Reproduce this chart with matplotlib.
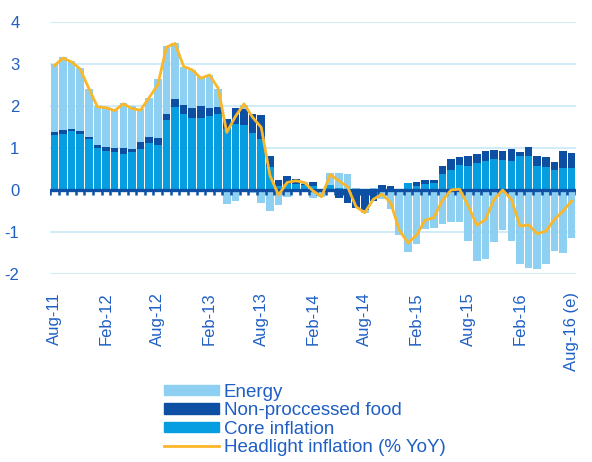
import numpy as np
import matplotlib
matplotlib.use("Agg")
import matplotlib.pyplot as plt
from matplotlib.patches import Patch
from matplotlib.lines import Line2D

plt.rcParams['font.family'] = ['Liberation Sans', 'DejaVu Sans']
plt.rcParams['axes.unicode_minus'] = False

# monthly, Aug-11 .. Aug-16 (e)
core = [1.30, 1.34, 1.40, 1.34, 1.21, 1.00, 0.92, 0.90, 0.86, 0.90, 0.98, 1.12, 1.06,
        1.66, 1.98, 1.81, 1.72, 1.72, 1.77, 1.81, 1.45, 1.58, 1.55, 1.35, 1.22,
        0.54, 0.10, 0.14, 0.15, 0.12, 0.10, 0.00, 0.12, 0.04, 0.02, 0.00, 0.00,
        0.00, 0.02, 0.00, 0.02, 0.17, 0.10, 0.14, 0.16, 0.38, 0.48, 0.60, 0.57,
        0.64, 0.70, 0.74, 0.72, 0.70, 0.80, 0.82, 0.57, 0.54, 0.48, 0.52, 0.52]
food = [0.07, 0.08, 0.06, 0.06, 0.05, 0.07, 0.10, 0.10, 0.14, 0.08, 0.16, 0.14, 0.19,
        0.16, 0.18, 0.21, 0.24, 0.28, 0.19, 0.16, 0.25, 0.38, 0.37, 0.47, 0.56,
        0.26, 0.14, 0.20, 0.10, 0.02, 0.08, -0.02, -0.03, -0.18, -0.30, -0.44, -0.48,
        -0.26, 0.10, 0.09, 0.00, 0.00, 0.09, 0.10, 0.08, 0.20, 0.26, 0.18, 0.23,
        0.22, 0.24, 0.22, 0.22, 0.28, 0.10, 0.20, 0.25, 0.24, 0.18, 0.41, 0.36]
energy = [1.63, 1.74, 1.60, 1.50, 1.14, 0.93, 0.95, 0.94, 1.06, 1.02, 0.80, 0.94, 1.39,
          1.62, 1.34, 0.92, 0.90, 0.70, 0.78, 0.44, -0.34, -0.26, 0.10, -0.08, -0.30,
          -0.50, -0.36, -0.16, -0.03, 0.04, -0.20, -0.14, 0.28, 0.36, 0.36, 0.04, -0.06,
          0.04, -0.22, -0.45, -1.06, -1.48, -1.28, -0.94, -0.91, -0.82, -0.75, -0.75, -1.22,
          -1.70, -1.64, -1.24, -0.95, -1.22, -1.75, -1.86, -1.88, -1.75, -1.46, -1.51, -1.15]
headline = [2.96, 3.14, 3.05, 2.88, 2.42, 1.98, 1.96, 1.89, 2.05, 1.94, 1.90, 2.20, 2.50,
            3.40, 3.49, 2.94, 2.86, 2.66, 2.74, 2.42, 1.37, 1.75, 2.05, 1.73, 1.49,
            0.35, -0.12, 0.18, 0.22, 0.18, -0.02, -0.16, 0.37, 0.22, 0.08, -0.40, -0.54,
            -0.22, -0.10, -0.30, -0.95, -1.26, -1.08, -0.72, -0.66, -0.25, 0.00, 0.02, -0.38,
            -0.84, -0.70, -0.22, 0.00, -0.22, -0.86, -0.83, -1.04, -0.98, -0.70, -0.50, -0.26]

tick_labels = ["Aug-11", "Feb-12", "Aug-12", "Feb-13", "Aug-13", "Feb-14",
               "Aug-14", "Feb-15", "Aug-15", "Feb-16", "Aug-16 (e)"]

C_ENERGY = "#8dd0f1"
C_FOOD = "#0c4fa3"
C_CORE = "#079ee1"
C_LINE = "#fbb72a"
C_TEXT = "#1f5fc4"
C_GRID = "#cde9f8"

n = len(headline)
x = np.arange(n)

fig = plt.figure(figsize=(5.92, 4.62), dpi=100)
ax = fig.add_axes([50 / 592, 1 - 274 / 462, 526 / 592, 252 / 462])

# stack positives up and negatives down, series order core -> food -> energy
pos = np.zeros(n)
neg = np.zeros(n)
for vals, col in [(core, C_CORE), (food, C_FOOD), (energy, C_ENERGY)]:
    v = np.array(vals)
    bottom = np.where(v >= 0, pos, neg)
    ax.bar(x, v, width=0.88, bottom=bottom, color=col, zorder=2)
    pos += np.where(v >= 0, v, 0)
    neg += np.where(v < 0, v, 0)

ax.axhline(0, color=C_FOOD, lw=2.4, zorder=3)
ax.vlines(np.arange(n + 1) - 0.5, -0.12, 0, color=C_FOOD, lw=1.8, zorder=3)
ax.plot(x, headline, color=C_LINE, lw=2.0, zorder=4)

ax.set_xlim(-0.5, n - 0.5)
ax.set_ylim(-2, 4)
ax.set_yticks(range(-2, 5))
ax.yaxis.grid(True, color=C_GRID, lw=1.3)
ax.set_axisbelow(True)
for s in ax.spines.values():
    s.set_visible(False)
ax.tick_params(axis='y', length=0, pad=22, labelsize=12, labelcolor=C_TEXT)
ax.set_xticks(x[::6])
ax.set_xticklabels(tick_labels, rotation=90, va='top', ha='center')
ax.tick_params(axis='x', length=0, pad=13, labelsize=12, labelcolor=C_TEXT)

handles = [Patch(color=C_ENERGY), Patch(color=C_FOOD), Patch(color=C_CORE),
           Line2D([], [], color=C_LINE, lw=2)]
labels = ["Energy", "Non-proccessed food", "Core inflation", "Headlight inflation (% YoY)"]
fig.legend(handles, labels, loc='center', bbox_to_anchor=(0.515, 0.091), frameon=False,
           fontsize=13.5, labelcolor=C_TEXT, handlelength=2.9, handleheight=0.5,
           handletextpad=0.25, labelspacing=0.08, borderpad=0.2)

fig.savefig("out.png", dpi=100)
